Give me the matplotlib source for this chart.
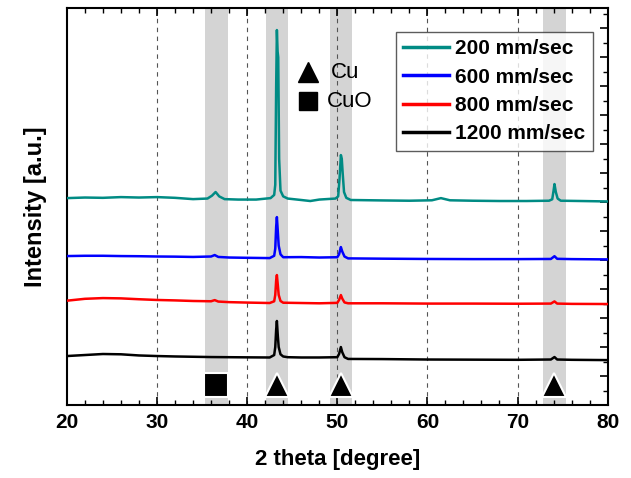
import matplotlib
matplotlib.use("Agg")
import matplotlib.pyplot as plt
from matplotlib.ticker import MultipleLocator

plt.rcParams['font.family'] = ['Liberation Sans', 'DejaVu Sans']

# ---- data (2theta, intensity a.u., offset stacked) ----
x_200 = [20, 22, 24, 26, 28, 30, 32, 34, 35.6, 36.1, 36.5, 36.9, 37.5, 39, 41, 42.6, 43.0, 43.12,
         43.22, 43.3, 43.38, 43.45, 43.55, 43.7, 44.0, 44.5, 46, 47, 48, 49.8, 50.1, 50.25, 50.4,
         50.5, 50.6, 50.75, 51.0, 51.5, 55, 58, 60.5, 61.5, 62.5, 65, 68, 71, 73.5, 73.85, 74.0,
         74.1, 74.25, 74.45, 74.8, 77, 80]
y_200 = [1428, 1432, 1430, 1435, 1432, 1435, 1430, 1421, 1425, 1445, 1470, 1440, 1421, 1418, 1418,
         1428, 1450, 1520, 2200, 2588, 2440, 2400, 1700, 1480, 1440, 1425, 1415, 1408, 1418, 1425,
         1440, 1560, 1725, 1700, 1600, 1470, 1430, 1415, 1412, 1410, 1413, 1428, 1413, 1410, 1408,
         1408, 1410, 1420, 1480, 1525, 1470, 1425, 1410, 1408, 1405]

x_600 = [20, 22, 24, 26, 28, 30, 32, 34, 36.0, 36.4, 36.8, 38, 40, 42.5, 43.0, 43.12, 43.22,
         43.3, 43.4, 43.5, 43.7, 44.0, 46, 48, 50.0, 50.2, 50.4, 50.55, 50.8, 51.2, 55, 60,
         65, 70, 73.7, 74.1, 74.4, 76, 80]
y_600 = [1028, 1030, 1030, 1028, 1027, 1025, 1024, 1022, 1025, 1035, 1022, 1018, 1016, 1014,
         1030, 1080, 1230, 1297, 1200, 1100, 1040, 1020, 1021, 1018, 1020, 1040, 1090, 1060,
         1025, 1012, 1010, 1008, 1007, 1007, 1008, 1027, 1009, 1007, 1005]

x_800 = [20, 22, 24, 26, 28, 30, 32, 34, 36.0, 36.4, 36.8, 38, 40, 42.5, 43.0, 43.12, 43.22,
         43.3, 43.4, 43.5, 43.7, 44.0, 46, 48, 50.0, 50.2, 50.4, 50.55, 50.8, 51.2, 55, 60,
         65, 70, 73.7, 74.1, 74.4, 76, 80]
y_800 = [720, 733, 738, 736, 730, 725, 722, 718, 716, 724, 714, 710, 707, 704, 716, 760, 860,
         897, 830, 760, 718, 706, 704, 702, 705, 725, 759, 735, 708, 702, 702, 700, 700, 699,
         700, 715, 700, 698, 697]

x_1200 = [20, 22, 24, 26, 28, 30, 32, 34, 36.0, 38, 40, 42.5, 43.0, 43.12, 43.22, 43.3, 43.4,
          43.5, 43.7, 44.0, 44.5, 46, 48, 50.0, 50.2, 50.4, 50.55, 50.8, 51.2, 55, 60, 65, 70,
          73.7, 74.1, 74.4, 76, 80]
y_1200 = [338, 345, 352, 350, 342, 338, 335, 333, 331, 330, 329, 328, 345, 400, 520, 580, 480,
          400, 350, 335, 330, 328, 328, 330, 352, 400, 365, 330, 318, 317, 314, 313, 312, 314,
          331, 314, 312, 310]

series = [
    ("200 mm/sec", x_200, y_200, "#008b84"),
    ("600 mm/sec", x_600, y_600, "#0000ff"),
    ("800 mm/sec", x_800, y_800, "#ff0000"),
    ("1200 mm/sec", x_1200, y_1200, "#000000"),
]

# phase reference positions
cu_peaks = [43.3, 50.4, 74.1]
cuo_peaks = [36.6]
band_halfwidth = 1.25
marker_level = 138

fig = plt.figure(figsize=(6.31, 4.78), dpi=100)
ax = fig.add_axes([0.106, 0.1527, 0.857, 0.8305])

for p in cuo_peaks + cu_peaks:
    ax.axvspan(p - band_halfwidth, p + band_halfwidth, color="#d4d4d4", lw=0, zorder=0)

for gx in [30, 40, 50, 60, 70]:
    ax.axvline(gx, color="#555555", ls=(0, (4, 4)), lw=0.8, zorder=1)

for label, xs, ys, c in series:
    ax.plot(xs, ys, color=c, lw=1.8, label=label, zorder=3)

ax.plot(cu_peaks, [marker_level] * len(cu_peaks), ls="none", marker="^", ms=17,
        mfc="black", mec="white", mew=1.5, zorder=4)
ax.plot(cuo_peaks, [marker_level] * len(cuo_peaks), ls="none", marker="s", ms=17,
        mfc="black", mec="white", mew=1.5, zorder=4)

# inline phase key
ax.plot([46.7], [2298], ls="none", marker="^", ms=14, color="black", zorder=4)
ax.plot([46.7], [2098], ls="none", marker="s", ms=13, color="black", zorder=4)
ax.text(49.3, 2298, "Cu", fontsize=16, va="center", ha="left")
ax.text(48.8, 2098, "CuO", fontsize=16, va="center", ha="left")

ax.set_xlim(20, 80)
ax.set_ylim(0, 2740)

ax.xaxis.set_major_locator(MultipleLocator(10))
ax.xaxis.set_minor_locator(MultipleLocator(2))
ax.yaxis.set_major_locator(MultipleLocator(200))
ax.yaxis.set_minor_locator(MultipleLocator(100))
ax.tick_params(axis="x", which="both", direction="in", top=True, bottom=True, pad=6)
ax.tick_params(axis="y", which="both", direction="in", left=False, right=True,
               labelleft=False, labelright=False)
ax.tick_params(which="major", length=6, width=1.2)
ax.tick_params(which="minor", length=3.5, width=1.0)
for lab in ax.get_xticklabels():
    lab.set_fontweight("bold")
    lab.set_fontsize(15)

for s in ax.spines.values():
    s.set_linewidth(1.5)

ax.set_xlabel("2 theta [degree]", fontsize=16, fontweight="bold", labelpad=12)
ax.set_ylabel("Intensity [a.u.]", fontsize=17, fontweight="bold", labelpad=14)

leg = ax.legend(loc="upper right", bbox_to_anchor=(0.972, 0.94),
                prop={"weight": "bold", "size": 15}, frameon=True, fancybox=False,
                handlelength=2.2, handletextpad=0.3, borderpad=0.35, labelspacing=0.45,
                borderaxespad=0)
leg.get_frame().set_edgecolor("#333333")
leg.get_frame().set_linewidth(1.0)
for ln in leg.get_lines():
    ln.set_linewidth(2.5)

fig.savefig("out.png", dpi=100)
